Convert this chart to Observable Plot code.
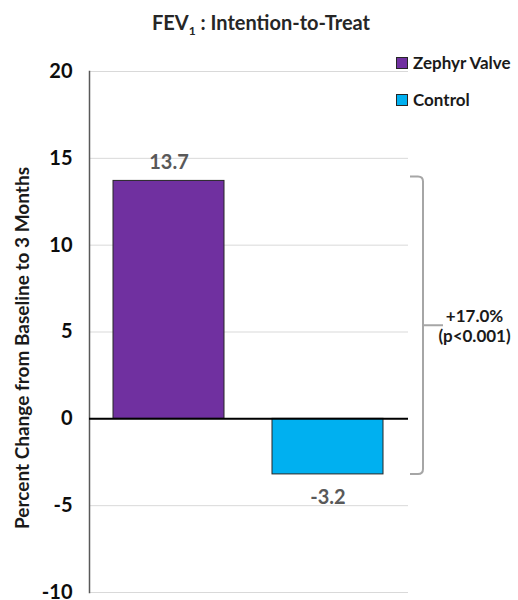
<!DOCTYPE html>
<html>
<head>
<meta charset="utf-8">
<script src="https://cdn.jsdelivr.net/npm/d3@7"></script>
<script src="https://cdn.jsdelivr.net/npm/@observablehq/plot@0.6"></script>
<style>
  html, body { margin: 0; padding: 0; background: #fff; }
  #wrap { position: relative; width: 518px; height: 600px; font-family: Lato, "Open Sans", sans-serif; }
  #title { height: 40px; padding-top: 2px; box-sizing: border-box; line-height: 40px; text-align: center; font-weight: bold; font-size: 20px; color: #262626; padding-left: 4px; }
  #title sub { font-size: 12px; }
  .legend { position: absolute; left: 396px; font-weight: bold; font-size: 17px; color: #1a1a1a; display: flex; align-items: center; line-height: 20px; }
  .legend span.sw { display: inline-block; width: 10px; height: 10px; border: 1px solid #262626; margin-right: 5px; }
</style>
</head>
<body>
<div id="wrap">
  <div id="title">FEV<sub>1</sub> : Intention-to-Treat</div>
  <div id="chart"></div>
</div>
<script>
const categories = ["Zephyr Valve", "Control"];
const values = [13.7, -3.2];
const colors = ["#7030a0", "#00b0f0"];
const valueLabels = ["13.7", "-3.2"];
const yTicks = [20, 15, 10, 5, 0, -5, -10];
const yTickLabels = ["20", "15", "10", "5", "0", "-5", "-10"];
const yDomain = [-10, 20];
const yLabel = "Percent Change from Baseline to 3 Months";
const differenceLabel = "+17.0%";
const pValueLabel = "(p<0.001)";

const data = categories.map((c, i) => ({category: c, value: values[i], color: colors[i], label: valueLabels[i]}));
const tickLabelMap = new Map(yTicks.map((t, i) => [t, yTickLabels[i]]));

function bracket(index, scales, vals, dimensions) {
  const right = dimensions.width - dimensions.marginRight;
  const x0 = right + 2, x1 = right + 15, x2 = right + 35;
  const yTop = scales.y(values[0]) - 4;
  const yBot = scales.y(values[1]);
  const yMid = (yTop + yBot) / 2;
  const r = 5;
  const p = d3.path();
  p.moveTo(x0, yTop);
  p.lineTo(x1 - r, yTop);
  p.quadraticCurveTo(x1, yTop, x1, yTop + r);
  p.lineTo(x1, yBot - r);
  p.quadraticCurveTo(x1, yBot, x1 - r, yBot);
  p.lineTo(x0, yBot);
  p.moveTo(x1, yMid);
  p.lineTo(x2, yMid);
  return d3.create("svg:path")
    .attr("d", p.toString())
    .attr("fill", "none")
    .attr("stroke", "#a6a6a6")
    .attr("stroke-width", 2)
    .node();
}

const chart = Plot.plot({
  width: 518,
  height: 560,
  marginLeft: 89,
  marginRight: 110,
  marginTop: 31,
  marginBottom: 8,
  style: {fontFamily: "Lato, 'Open Sans', sans-serif", background: "#fff", overflow: "visible"},
  x: {domain: categories, paddingInner: 0.3, paddingOuter: 0.15, axis: null},
  y: {domain: yDomain, ticks: yTicks},
  marks: [
    Plot.gridY(yTicks, {stroke: "#d9d9d9", strokeOpacity: 1, strokeWidth: 1}),
    Plot.frame({anchor: "left", stroke: "#595959", strokeWidth: 1.5}),
    Plot.axisY(yTicks, {tickSize: 0, tickPadding: 17, fontSize: 20, fontWeight: "bold", fill: "#0d0d0d", tickFormat: d => tickLabelMap.get(d), label: null}),
    Plot.text([yLabel], {frameAnchor: "left", rotate: -90, dx: -67, dy: 16, fontSize: 19, fontWeight: "bold", fill: "#1a1a1a", textAnchor: "middle"}),
    Plot.barY(data, {x: "category", y: "value", fill: "color", stroke: "#262626", strokeWidth: 1}),
    Plot.ruleY([0], {stroke: "#000", strokeWidth: 2}),
    Plot.text(data.filter(d => d.value >= 0), {x: "category", y: "value", text: "label", lineAnchor: "bottom", dy: -12, fontSize: 20, fontWeight: "bold", fill: "#595959"}),
    Plot.text(data.filter(d => d.value < 0), {x: "category", y: "value", text: "label", lineAnchor: "top", dy: 15, fontSize: 20, fontWeight: "bold", fill: "#595959"}),
    bracket,
    Plot.text([differenceLabel + "\n" + pValueLabel], {y: [(values[0] + values[1]) / 2], frameAnchor: "right", dx: 66, dy: -2, textAnchor: "middle", lineAnchor: "middle", lineHeight: 1.2, fontSize: 17, fontWeight: "bold", fill: "#1a1a1a"})
  ]
});
document.getElementById("chart").appendChild(chart);

const wrap = document.getElementById("wrap");
const legendY = [63, 100];
categories.forEach((c, i) => {
  const d = document.createElement("div");
  d.className = "legend";
  d.style.top = (legendY[i] - 10) + "px";
  const sw = document.createElement("span");
  sw.className = "sw";
  sw.style.background = colors[i];
  d.appendChild(sw);
  d.appendChild(document.createTextNode(c));
  wrap.appendChild(d);
});
</script>
</body>
</html>
